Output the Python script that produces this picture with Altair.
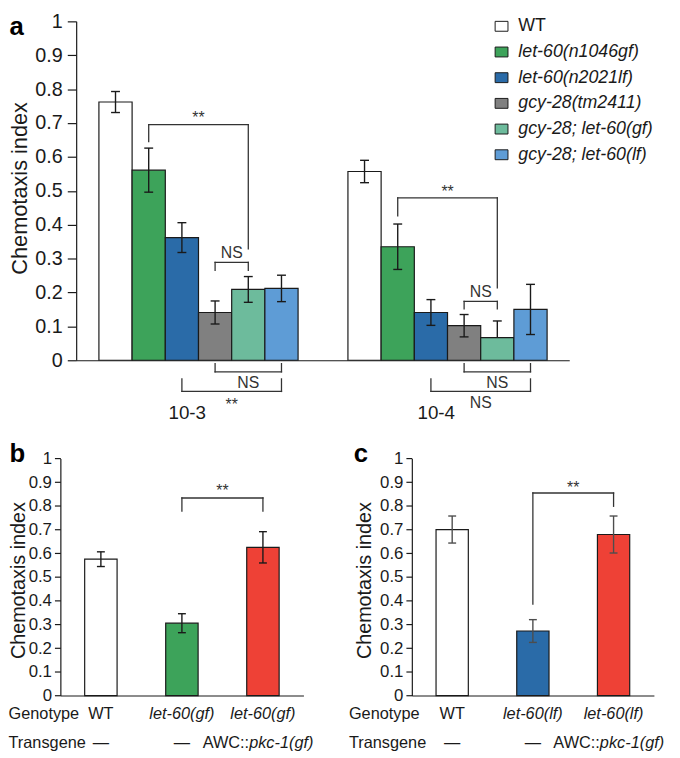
import altair as alt
import pandas as pd

FONT = "Liberation Sans"
INK = "#1a1a1a"
LINE = "#333333"

# ---------------- data ----------------
genotypes_a = ["WT", "let-60(n1046gf)", "let-60(n2021lf)", "gcy-28(tm2411)",
               "gcy-28; let-60(gf)", "gcy-28; let-60(lf)"]
colors_a = ["#FFFFFF", "#3DA35A", "#2A6BA8", "#808080", "#6DBB9C", "#5E9CD6"]
concentrations = ["10-3", "10-4"]
mean_a_3 = [0.762, 0.561, 0.362, 0.141, 0.209, 0.212]
err_a_3 = [0.031, 0.065, 0.044, 0.034, 0.038, 0.039]
mean_a_4 = [0.557, 0.335, 0.141, 0.102, 0.067, 0.150]
err_a_4 = [0.033, 0.067, 0.038, 0.033, 0.049, 0.074]
err_low_a_4 = [0.033, 0.067, 0.038, 0.033, 0.000, 0.074]

# brackets: (concentration idx, left bar, right bar, bracket level, left leg end, right leg end)
brackets_a = [
    (0, 1, 4, 0.695, 0.645, 0.329),
    (0, 3, 4, 0.289, 0.265, 0.265),
    (0, 3, 5, -0.034, -0.010, -0.010),
    (0, 2, 5, -0.092, -0.055, -0.055),
    (1, 1, 4, 0.479, 0.426, 0.214),
    (1, 3, 4, 0.174, 0.152, 0.152),
    (1, 3, 5, -0.034, -0.010, -0.010),
    (1, 2, 5, -0.092, -0.055, -0.055),
]
# significance labels: (text, concentration idx, bar position, y)
sig_a = [
    ("**", 0, 2.5, 0.714),
    ("NS", 0, 3.5, 0.3155),
    ("NS", 0, 4.0, -0.0685),
    ("**", 0, 3.5, -0.131),
    ("**", 1, 2.5, 0.496),
    ("NS", 1, 3.5, 0.2006),
    ("NS", 1, 4.0, -0.0665),
    ("NS", 1, 3.5, -0.1268),
]

row_headers = ["Genotype", "Transgene"]
genotype_b = ["WT", "let-60(gf)", "let-60(gf)"]
genotype_c = ["WT", "let-60(lf)", "let-60(lf)"]
transgene_bc = ["—", "—", "AWC::pkc-1(gf)"]
colors_b = ["#FFFFFF", "#3DA35A", "#EE4136"]
colors_c = ["#FFFFFF", "#2A6BA8", "#EE4136"]
mean_b = [0.575, 0.305, 0.625]
err_b = [0.031, 0.040, 0.066]
mean_c = [0.700, 0.272, 0.679]
err_c = [0.057, 0.048, 0.078]
# (left bar, right bar, bracket level, left leg end, right leg end)
brackets_b = [(1, 2, 0.833, 0.778, 0.778)]
brackets_c = [(1, 2, 0.854, 0.386, 0.798)]
sig_b = [("**", 2.0, 0.861)]
sig_c = [("**", 2.0, 0.877)]

y_ticks = [0, 0.1, 0.2, 0.3, 0.4, 0.5, 0.6, 0.7, 0.8, 0.9, 1]
panel_letters = ["a", "b", "c"]

# ---------------- layout (pixels, chart coordinates) ----------------
W, H = 672, 750
A_X, A_Y = [69, 568], [352, 9]
A_XMAX = 1.98
B_X, C_X, BC_Y = [53, 299], [408.7, 653.7], [691.3, 451.3]
BW_A = 0.1333
OFF_A = 0.0913
HALF_BC = 0.2
GENO_Y, TRANS_Y = -0.0788, -0.201
letter_px = [1.5, 1.5, 350]
letter_py = [23, 455.3, 455.3]


def center_a(g, pos):
    return g + OFF_A + (pos + 0.5) * BW_A


def y_axis(offset, label_size, tick_size, label_pad, title_size, title_x, title_y):
    return alt.Axis(orient="left", offset=offset, values=y_ticks, format="~g",
                    labelFont=FONT, labelFontSize=label_size, labelColor=INK,
                    labelPadding=label_pad, labelOverlap=False,
                    tickSize=tick_size, tickColor=INK, tickWidth=1.2,
                    domainColor=INK, domainWidth=1.2, grid=False,
                    title="Chemotaxis index", titleFont=FONT, titleFontSize=title_size,
                    titleFontWeight="normal", titleColor=INK, titleX=title_x,
                    titleY=title_y, titleAngle=270, titleAlign="center",
                    titleBaseline="middle")


def x_axis(y_pix):
    return alt.Axis(orient="bottom", offset=y_pix - H, labels=False, ticks=False,
                    title=None, grid=False, domainColor=INK, domainWidth=1.2)


def seg_rows(items):
    rows = []
    for xl, xr, lev, el, er in items:
        rows.append(dict(x0=xl, x1=xr, y0=lev, y1=lev))
        rows.append(dict(x0=xl, x1=xl, y0=lev, y1=el))
        rows.append(dict(x0=xr, x1=xr, y0=lev, y1=er))
    return pd.DataFrame(rows)


def bars_panel(df, xs, ys, xax, yax, fill, err_color, cap):
    bars = alt.Chart(df).mark_rect(stroke=INK, strokeWidth=1.2).encode(
        x=alt.X("left:Q", scale=xs, axis=xax), x2="right:Q",
        y=alt.Y("mean:Q", scale=ys, axis=yax), y2=alt.datum(0), fill=fill)
    err = alt.Chart(df).mark_rule(color=err_color, strokeWidth=1.4).encode(
        x=alt.X("center:Q", scale=xs),
        y=alt.Y("lo:Q", scale=ys), y2="hi:Q")
    cap_hi = alt.Chart(df).mark_tick(orient="horizontal", size=cap, thickness=1.4,
                                     color=err_color, opacity=1).encode(
        x=alt.X("center:Q", scale=xs), y=alt.Y("hi:Q", scale=ys))
    cap_lo = alt.Chart(df).transform_filter("datum.lo < datum.mean").mark_tick(
        orient="horizontal", size=cap, thickness=1.4, color=err_color, opacity=1).encode(
        x=alt.X("center:Q", scale=xs), y=alt.Y("lo:Q", scale=ys))
    return [bars, err, cap_hi, cap_lo]


def rules(df, xs, ys):
    return alt.Chart(df).mark_rule(color=LINE, strokeWidth=1.3, strokeCap="square").encode(
        x=alt.X("x0:Q", scale=xs), x2="x1:Q",
        y=alt.Y("y0:Q", scale=ys), y2="y1:Q")


def texts(df, xs, ys, size, color=LINE, align="center", style="normal"):
    return alt.Chart(df).mark_text(font=FONT, fontSize=size, color=color, align=align,
                                   baseline="middle", fontStyle=style).encode(
        x=alt.X("x:Q", scale=xs), y=alt.Y("y:Q", scale=ys),
        text="t:N")


# ---------------- panel a ----------------
xa = alt.Scale(domain=[0, A_XMAX], range=A_X, nice=False, zero=False)
ya = alt.Scale(domain=[0, 1], range=A_Y, nice=False, zero=False)
rows = []
for g, (conc, means, errs, lows) in enumerate(zip(concentrations, [mean_a_3, mean_a_4],
                                                   [err_a_3, err_a_4], [err_a_3, err_low_a_4])):
    for i, gen in enumerate(genotypes_a):
        rows.append(dict(conc=conc, genotype=gen, left=g + OFF_A + i * BW_A,
                         right=g + OFF_A + (i + 1) * BW_A, center=center_a(g, i),
                         mean=means[i], hi=means[i] + errs[i], lo=means[i] - lows[i]))
df_a = pd.DataFrame(rows)

legend_a = alt.Legend(orient="none", legendX=490.5, legendY=5, title=None,
                      symbolType="M-1.3,-1H1.3V1H-1.3Z", symbolSize=100,
                      symbolStrokeColor=INK, symbolStrokeWidth=1,
                      labelFont=FONT, labelFontSize=18, labelColor=INK, labelOffset=8,
                      rowPadding=8, padding=0, labelLimit=300,
                      labelFontStyle=alt.ExprRef(expr="datum.label == 'WT' ? 'normal' : 'italic'"))
fill_a = alt.Fill("genotype:N", scale=alt.Scale(domain=genotypes_a, range=colors_a),
                  legend=legend_a)
layers_a = bars_panel(df_a, xa, ya, x_axis(A_Y[0]),
                      y_axis(-A_X[0], 20, 9, 5, 22, 11.4 - A_X[0], 177.5),
                      fill_a, INK, 9)
seg_a = seg_rows([(center_a(g, il), center_a(g, ir), lev, el, er)
                  for g, il, ir, lev, el, er in brackets_a])
layers_a.append(rules(seg_a, xa, ya))
sig_df_a = pd.DataFrame([dict(t=t, x=center_a(g, p), y=y) for t, g, p, y in sig_a])
layers_a.append(texts(sig_df_a, xa, ya, 16))
conc_df = pd.DataFrame([dict(t=c, x=g + 0.446, y=-0.1566) for g, c in enumerate(concentrations)])
layers_a.append(texts(conc_df, xa, ya, 19, color=INK))
panel_a = alt.layer(*layers_a)


# ---------------- panels b and c ----------------
def panel_bc(xrange, genos, colors, means, errs, brackets, sigs, err_color, title_x, header_x):
    xs = alt.Scale(domain=[0, 3], range=xrange, nice=False, zero=False)
    ys = alt.Scale(domain=[0, 1], range=BC_Y, nice=False, zero=False)
    df = pd.DataFrame(dict(center=[i + 0.5 for i in range(3)],
                           left=[i + 0.5 - HALF_BC for i in range(3)],
                           right=[i + 0.5 + HALF_BC for i in range(3)],
                           mean=means, hi=[m + e for m, e in zip(means, errs)],
                           lo=[m - e for m, e in zip(means, errs)], color=colors))
    layers = bars_panel(df, xs, ys, x_axis(BC_Y[0]),
                        y_axis(-xrange[0], 17, 6, 3, 20, title_x, 574.5),
                        alt.Fill("color:N", scale=None), err_color, 8)
    layers.append(rules(seg_rows([(il + 0.5, ir + 0.5, lev, el, er)
                                  for il, ir, lev, el, er in brackets]), xs, ys))
    layers.append(texts(pd.DataFrame([dict(t=t, x=x, y=y) for t, x, y in sigs]), xs, ys, 16))
    # row headers
    layers.append(texts(pd.DataFrame(dict(t=row_headers, x=[header_x] * 2, y=[GENO_Y, TRANS_Y])),
                        xs, ys, 16.5, color=INK, align="left"))
    normal, italic, right, italic_left = [], [], [], []
    for i, gname in enumerate(genos):
        (normal if gname == "WT" else italic).append(dict(t=gname, x=i + 0.5, y=GENO_Y))
    for i, tg in enumerate(transgene_bc):
        if "::" in tg:
            pre, post = tg.split("::")
            right.append(dict(t=pre + "::", x=i + 0.5 - 0.17, y=TRANS_Y))
            italic_left.append(dict(t=post, x=i + 0.5 - 0.17, y=TRANS_Y))
        else:
            normal.append(dict(t=tg, x=i + 0.5, y=TRANS_Y))
    layers.append(texts(pd.DataFrame(normal), xs, ys, 16.5, color=INK))
    layers.append(texts(pd.DataFrame(italic), xs, ys, 16.5, color=INK, style="italic"))
    layers.append(texts(pd.DataFrame(right), xs, ys, 16.5, color=INK, align="right"))
    layers.append(texts(pd.DataFrame(italic_left), xs, ys, 16.5, color=INK, align="left",
                        style="italic"))
    return alt.layer(*layers)


panel_b = panel_bc(B_X, genotype_b, colors_b, mean_b, err_b, brackets_b, sig_b, INK,
                   10.5 - B_X[0], -0.64)
panel_c = panel_bc(C_X, genotype_c, colors_c, mean_c, err_c, brackets_c, sig_c, "#4d4d4d",
                   361 - C_X[0], -0.78)

letters = alt.Chart(pd.DataFrame(dict(t=panel_letters, px=letter_px, py=letter_py))).mark_text(
    font=FONT, fontSize=26, fontWeight="bold", align="left", baseline="alphabetic",
    color="black").encode(x=alt.X("px:Q", scale=None), y=alt.Y("py:Q", scale=None), text="t:N")

chart = alt.layer(panel_a, panel_b, panel_c, letters).resolve_scale(
    x="independent", y="independent").properties(
    width=W, height=H, autosize=alt.AutoSizeParams(type="none"), padding=0,
    background="white").configure_view(strokeWidth=0)

chart.save("out.html", embed_options={"renderer": "svg", "actions": False})
